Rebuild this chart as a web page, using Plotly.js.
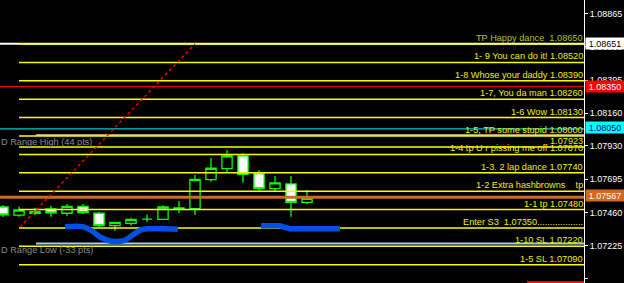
<!DOCTYPE html>
<html>
<head>
<meta charset="utf-8">
<script src="https://cdn.plot.ly/plotly-3.0.1.min.js"></script>
<style>html,body{margin:0;padding:0;background:#000;}#chart{width:624px;height:283px;}</style>
</head>
<body>
<div id="chart"></div>
<script>
// ---- candle data ----
const candleX = [0,1,2,3,4,5,6,7,8,9,10,11,12,13,14,15,16,17,18,19];
const openP  = [1.07498,1.07440,1.07454,1.07484,1.07454,1.07503,1.07454,1.07366,1.07383,1.07413,1.07411,1.07489,1.07486,1.07691,1.07769,1.07859,1.07734,1.07628,1.07661,1.07531];
const highP  = [1.07512,1.07500,1.07493,1.07507,1.07519,1.07519,1.07465,1.07390,1.07423,1.07444,1.07510,1.07541,1.07724,1.07845,1.07901,1.07878,1.07760,1.07717,1.07717,1.07618];
const lowP   = [1.07428,1.07430,1.07442,1.07430,1.07435,1.07449,1.07355,1.07331,1.07366,1.07392,1.07411,1.07454,1.07442,1.07677,1.07736,1.07670,1.07613,1.07609,1.07430,1.07519];
const closeP = [1.07442,1.07477,1.07465,1.07456,1.07503,1.07458,1.07366,1.07390,1.07411,1.07413,1.07498,1.07491,1.07694,1.07772,1.07859,1.07729,1.07628,1.07668,1.07531,1.07560];

// ---- target levels ----
const levelPrices = [1.08650,1.08520,1.08390,1.08260,1.08130,1.08000,1.07923,1.07870,1.07740,1.07610,1.07480,1.07350,1.07220,1.07090];
const levelLabels = [
  "TP Happy dance\u00a0\u00a01.08650",
  "1- 9 You can do it! 1.08520",
  "1-8 Whose your daddy 1.08390",
  "1-7, You da man 1.08260",
  "1-6 Wow 1.08130",
  "1-5, TP some stupid 1.08000",
  "1.07923",
  "1-4 tp U r pissing me off 1.07870",
  "1-3. 2 lap dance 1.07740",
  "1-2 Extra hashbrowns\u00a0\u00a0\u00a0\u00a0tp",
  "1-1 tp 1.07480",
  "Enter S3\u00a0\u00a01.07350..................",
  "1-10 SL 1.07220",
  "1-5 SL 1.07090"
];
const levelStartX = 1.0;

// ---- other horizontal lines ----
const extraPrices = [1.08651, 1.08350, 1.08050, 1.08007, 1.07567, 1.07240, 1.06968];
const extraStart  = [-0.2, -0.2, -0.2, 2.06, -0.2, 2.06, 32.75];
const extraColors = ["#ffffff", "#ff0000", "#00ffff", "#f5c8a0", "#d2691e", "#a6caf0", "#ff0000"];
const extraWidths = [2, 1, 1, 1.5, 3, 2, 2];

// ---- price tags on right axis ----
const tagPrices = [1.08651, 1.08350, 1.08060, 1.07576];
const tagTexts  = ["1.08651", "1.08350", "1.08050", "1.07567"];
const tagBg     = ["#ffffff", "#ff0000", "#00ffff", "#d2691e"];
const tagFg     = ["#000000", "#ffffff", "#000080", "#ffffff"];

// ---- axis ticks ----
const tickVals = [1.08865,1.08630,1.08395,1.08160,1.07930,1.07695,1.07460,1.07225,1.06990];
const tickText = ["1.08865","1.08630","1.08395","1.08160","1.07930","1.07695","1.07460","1.07225","1.06990"];

// ---- blue indicator segments ----
const blue1X = [3.875,5.0,5.5625,6.0625,6.6875,7.0625,7.5,7.9375,8.375,8.75,10.9375];
const blue1Y = [1.07359,1.07359,1.07329,1.07286,1.07258,1.07254,1.07258,1.07286,1.07322,1.07341,1.07341];
const blue2X = [16.125,17.3125,17.6,17.9375,21.0625];
const blue2Y = [1.07366,1.07366,1.07355,1.07345,1.07345];

// ---- red dotted trend line ----
const trendX = [1.0625, 12.0];
const trendY = [1.07357, 1.08650];

// ---- grey range texts ----
const rangeTexts  = ["r Range High (146 pts)", "D Range High (44 pts)", "D Range Low (-33 pts)"];
const rangePrices = [1.08975, 1.07960, 1.07194];
const rangeColors = ["#2a2a2a", "#8c8c8c", "#8c8c8c"];

const xMin = -0.1875, xMax = 36.3125;
const yMin = 1.06961, yMax = 1.08961;
const FONT = "'Liberation Sans', Arial, sans-serif";
const FS = 9.2;

const traces = [];
traces.push({
  type: 'candlestick', x: candleX, open: openP, high: highP, low: lowP, close: closeP,
  increasing: {line: {color: '#00ff00', width: 1.3}, fillcolor: '#000000'},
  decreasing: {line: {color: '#00ff00', width: 1.3}, fillcolor: '#ffffff'},
  whiskerwidth: 0, hoverinfo: 'skip'
});
extraPrices.forEach((p, i) => {
  if (i === 4) return; // orange drawn later above yellow
  traces.push({type: 'scatter', mode: 'lines', x: [extraStart[i], xMax], y: [p, p],
    line: {color: extraColors[i], width: extraWidths[i]}, hoverinfo: 'skip'});
});
levelPrices.forEach((p) => {
  traces.push({type: 'scatter', mode: 'lines', x: [levelStartX, xMax], y: [p, p],
    line: {color: '#ffff00', width: 1.5}, hoverinfo: 'skip'});
});
traces.push({type: 'scatter', mode: 'lines', x: [extraStart[4], xMax], y: [extraPrices[4], extraPrices[4]],
  line: {color: extraColors[4], width: extraWidths[4]}, hoverinfo: 'skip'});
traces.push({type: 'scatter', mode: 'lines', x: trendX, y: trendY,
  line: {color: '#ff0000', width: 1.3, dash: 'dot'}, hoverinfo: 'skip'});
traces.push({type: 'scatter', mode: 'lines', x: blue1X, y: blue1Y,
  line: {color: '#0050e6', width: 5.5, shape: 'spline'}, hoverinfo: 'skip'});
traces.push({type: 'scatter', mode: 'lines', x: blue2X, y: blue2Y,
  line: {color: '#0050e6', width: 5.5}, hoverinfo: 'skip'});

const annotations = [];
levelPrices.forEach((p, i) => {
  annotations.push({xref: 'paper', x: 1, xanchor: 'right', yref: 'y', y: p, yanchor: 'bottom',
    yshift: 0, text: levelLabels[i], showarrow: false,
    font: {family: FONT, size: FS, color: i === 0 ? '#b4c41e' : '#f0f000'}, borderpad: 0});
});
rangeTexts.forEach((t, i) => {
  annotations.push({xref: 'paper', x: 0, xanchor: 'left', yref: 'y', y: rangePrices[i], yanchor: 'middle',
    text: t, showarrow: false, font: {family: FONT, size: FS, color: rangeColors[i]}, borderpad: 0});
});
tagPrices.forEach((p, i) => {
  annotations.push({xref: 'paper', x: 1, xanchor: 'left', xshift: 1, yref: 'y', y: p, yanchor: 'middle',
    text: tagTexts[i], showarrow: false, bgcolor: tagBg[i], width: 38, height: 11, align: 'center',
    font: {family: FONT, size: 9, color: tagFg[i]}, borderpad: 0});
});

const layout = {
  width: 624, height: 283,
  margin: {l: 0, r: 40, t: 0, b: 0},
  paper_bgcolor: '#000000', plot_bgcolor: '#000000',
  showlegend: false, hovermode: false,
  boxgap: 0.2, boxgroupgap: 0.2,
  xaxis: {range: [xMin, xMax], visible: false, rangeslider: {visible: false}, fixedrange: true},
  yaxis: {range: [yMin, yMax], side: 'right', tickmode: 'array', tickvals: tickVals, ticktext: tickText,
    showgrid: false, zeroline: false, showline: true, linecolor: '#ffffff', linewidth: 1,
    ticks: 'outside', ticklen: 3, tickcolor: '#ffffff', tickfont: {family: FONT, size: 9, color: '#ffffff'},
    automargin: false, fixedrange: true},
  annotations: annotations
};
Plotly.newPlot('chart', traces, layout, {displayModeBar: false, staticPlot: true});
</script>
</body>
</html>
